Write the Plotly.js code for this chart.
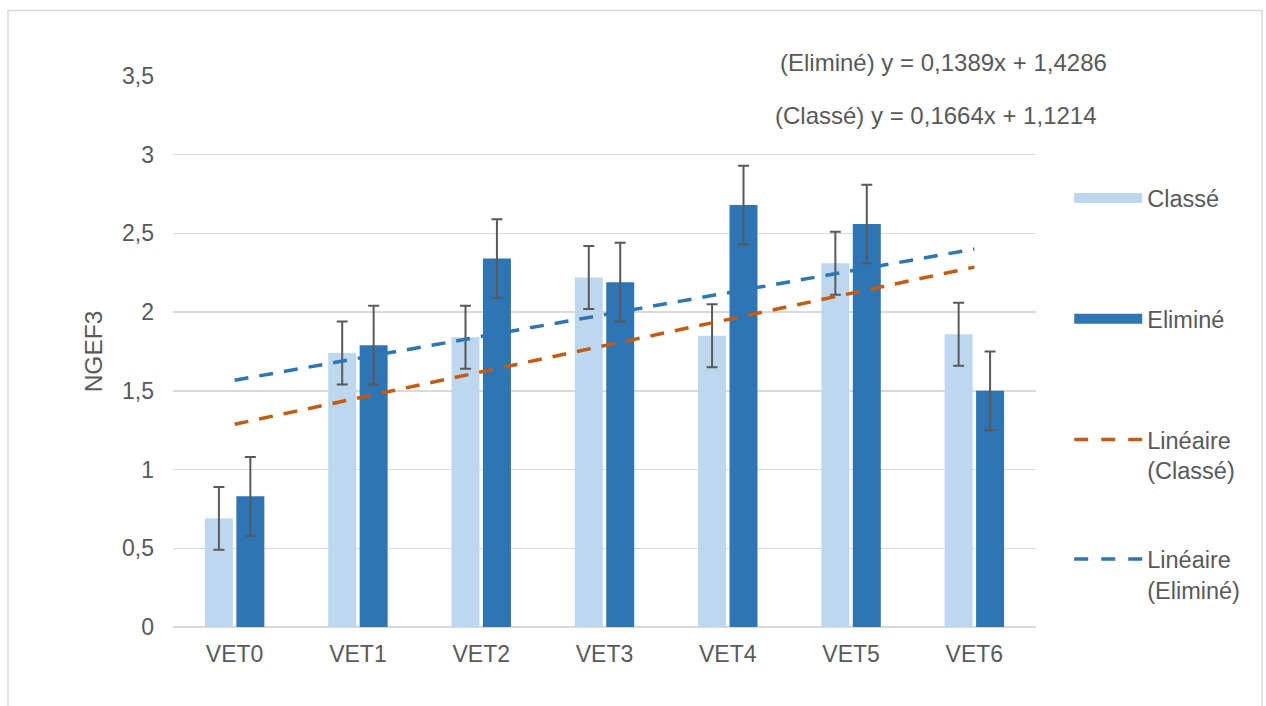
<!DOCTYPE html>
<html>
<head>
<meta charset="utf-8">
<script src="https://cdn.plot.ly/plotly-3.0.1.min.js"></script>
<style>
html,body{margin:0;padding:0;background:#fff;}
#chart{width:1266px;height:706px;}
</style>
</head>
<body>
<div id="chart"></div>
<script>
// ---- data ----
const categories = ["VET0","VET1","VET2","VET3","VET4","VET5","VET6"];
const classeValues = [0.69, 1.74, 1.84, 2.22, 1.85, 2.31, 1.86];
const classeErrors = [0.2, 0.2, 0.2, 0.2, 0.2, 0.2, 0.2];
const elimineValues = [0.83, 1.79, 2.34, 2.19, 2.68, 2.56, 1.50];
const elimineErrors = [0.25, 0.25, 0.25, 0.25, 0.25, 0.25, 0.25];
// trend line coefficients as displayed (y = a*x + b, x = 1..n)
const trendClasse = {slope: 0.1664, intercept: 1.1214};
const trendElimine = {slope: 0.1389, intercept: 1.4286};
const yTicks = [0, 0.5, 1, 1.5, 2, 2.5, 3, 3.5];
const yTickLabels = ["0","0,5","1","1,5","2","2,5","3","3,5"];

const FONT = "Liberation Sans, Arial, Helvetica, sans-serif";
const TXT = "#595959";
const C_LIGHT = "#BDD7EE";
const C_DARK = "#2E75B6";
const C_ORANGE = "#C55A11";

function trend(c){ return categories.map((_, i) => c.slope * (i + 1) + c.intercept); }

const traces = [
  {type:'bar', name:'Classé', x:categories, y:classeValues, marker:{color:C_LIGHT},
   error_y:{type:'data', array:classeErrors, visible:true, color:'#595959', thickness:2, width:5.5},
   showlegend:false, hoverinfo:'x+y'},
  {type:'bar', name:'Eliminé', x:categories, y:elimineValues, marker:{color:C_DARK},
   error_y:{type:'data', array:elimineErrors, visible:true, color:'#595959', thickness:2, width:5.5},
   showlegend:false, hoverinfo:'x+y'},
  {type:'scatter', mode:'lines', name:'Linéaire (Classé)', x:categories, y:trend(trendClasse),
   line:{color:C_ORANGE, width:3.5, dash:'14px,11px'}, showlegend:false},
  {type:'scatter', mode:'lines', name:'Linéaire (Eliminé)', x:categories, y:trend(trendElimine),
   line:{color:C_DARK, width:3.5, dash:'14px,11px'}, showlegend:false},
  // legend entries
  {type:'scatter', mode:'lines', name:'Classé', x:[null], y:[null], line:{color:C_LIGHT, width:12}, legend:'legend'},
  {type:'scatter', mode:'lines', name:'Eliminé', x:[null], y:[null], line:{color:C_DARK, width:12}, legend:'legend2'},
  {type:'scatter', mode:'lines', name:'Linéaire<br>(Classé)', x:[null], y:[null], line:{color:C_ORANGE, width:3.5, dash:'14px,13px'}, legend:'legend3'},
  {type:'scatter', mode:'lines', name:'Linéaire<br>(Eliminé)', x:[null], y:[null], line:{color:C_DARK, width:3.5, dash:'14px,13px'}, legend:'legend4'}
];

const legendBase = {xref:'paper', yref:'paper', x:1.0385, xanchor:'left', yanchor:'top', valign:'top',
  bgcolor:'rgba(0,0,0,0)', itemwidth:68, font:{family:FONT, size:23.5, color:TXT}, tracegroupgap:0};

const layout = {
  width:1266, height:706,
  margin:{l:173, r:230, t:75.5, b:78.5},
  paper_bgcolor:'#fff', plot_bgcolor:'#fff',
  font:{family:FONT, size:23, color:TXT},
  barmode:'group', bargap:0.49, bargroupgap:0.11,
  xaxis:{type:'category', showgrid:false, zeroline:false, showline:false, ticks:'',
    tickfont:{family:FONT, size:23, color:TXT}, ticklabelstandoff:11, fixedrange:true},
  yaxis:{range:[0,3.5], tickvals:yTicks, ticktext:yTickLabels, showgrid:true, gridcolor:'#D9D9D9', gridwidth:1.5,
    zeroline:true, zerolinecolor:'#D9D9D9', zerolinewidth:1.5, showline:false, ticks:'',
    tickfont:{family:FONT, size:23, color:TXT}, ticklabelstandoff:18,
    title:{text:'NGEF3', font:{family:FONT, size:24.5, color:TXT}, standoff:12}, fixedrange:true},
  legend: Object.assign({}, legendBase, {y:0.818}),
  legend2: Object.assign({}, legendBase, {y:0.599}),
  legend3: Object.assign({}, legendBase, {y:0.380}),
  legend4: Object.assign({}, legendBase, {y:0.163}),
  annotations:[
    {xref:'paper', yref:'paper', x:0.701, y:1.025, xanchor:'left', yanchor:'middle', showarrow:false,
     text:'(Eliminé) y = 0,1389x + 1,4286', font:{family:FONT, size:24, color:TXT}},
    {xref:'paper', yref:'paper', x:0.695, y:0.929, xanchor:'left', yanchor:'middle', showarrow:false,
     text:'(Classé) y = 0,1664x + 1,1214', font:{family:FONT, size:24, color:TXT}}
  ],
  shapes:[
    {type:'rect', xref:'paper', yref:'paper', x0:-0.1912, x1:1.2619, y0:-0.3, y1:1.1187,
     line:{color:'#D9D9D9', width:1.5}, fillcolor:'rgba(0,0,0,0)', layer:'below'}
  ]
};

Plotly.newPlot('chart', traces, layout, {displayModeBar:false, staticPlot:true});
</script>
</body>
</html>
